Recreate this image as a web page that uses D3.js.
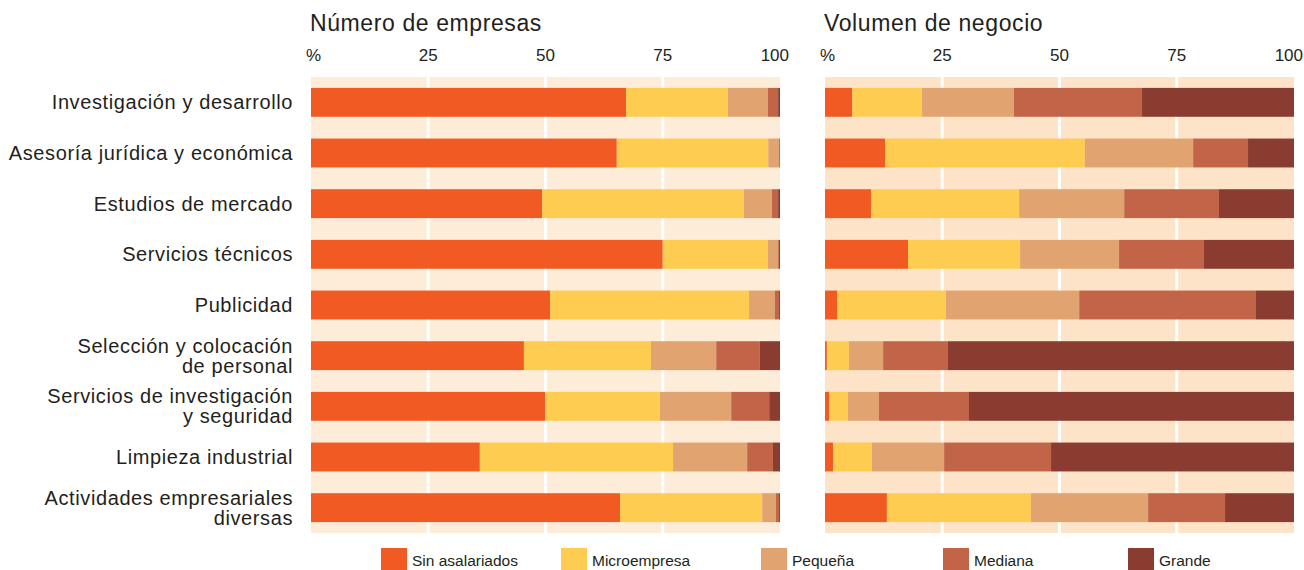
<!DOCTYPE html>
<html>
<head>
<meta charset="utf-8">
<title>Empresas por tamaño</title>
<script src="https://cdn.jsdelivr.net/npm/d3@7/dist/d3.min.js"></script>
<style>
  body { margin: 0; background: #fff; }
  svg text { font-family: 'Liberation Sans', Arial, sans-serif; fill: #231f20; }
</style>
</head>
<body>
<svg id="chart" width="1304" height="570"></svg>
<script>
// sectores (dos líneas cuando hace falta)
var sectores = [
  ["Investigación y desarrollo"],
  ["Asesoría jurídica y económica"],
  ["Estudios de mercado"],
  ["Servicios técnicos"],
  ["Publicidad"],
  ["Selección y colocación", "de personal"],
  ["Servicios de investigación", "y seguridad"],
  ["Limpieza industrial"],
  ["Actividades empresariales", "diversas"]
];
var tamanos = ["Sin asalariados", "Microempresa", "Pequeña", "Mediana", "Grande"];
var ticks = [0, 25, 50, 75, 100];
var tickLabels = ["%", "25", "50", "75", "100"];

// Número de empresas (%), una fila por sector, columnas = tamanos
var numEmpresas = [
  [67.2, 21.7, 8.5, 2.2, 0.4],
  [65.2, 32.3, 2.3, 0.1, 0.1],
  [49.3, 43.0, 6.0, 1.3, 0.4],
  [75.0, 22.4, 2.2, 0.2, 0.2],
  [51.0, 42.4, 5.5, 0.9, 0.2],
  [45.4, 27.1, 13.9, 9.3, 4.3],
  [49.9, 24.5, 15.2, 8.1, 2.3],
  [36.0, 41.2, 15.8, 5.5, 1.5],
  [65.9, 30.3, 2.9, 0.7, 0.2]
];
// Volumen de negocio (%)
var volNegocio = [
  [5.8, 14.9, 19.6, 27.3, 32.4],
  [12.8, 42.6, 23.1, 11.7, 9.8],
  [9.8, 31.6, 22.4, 20.2, 16.0],
  [17.7, 23.9, 21.1, 18.1, 19.2],
  [2.6, 23.2, 28.4, 37.7, 8.1],
  [0.4, 4.7, 7.3, 13.8, 73.8],
  [0.9, 4.0, 6.6, 19.2, 69.3],
  [1.7, 8.3, 15.4, 22.8, 51.8],
  [13.2, 30.7, 25.0, 16.4, 14.7]
];

var colores = ["#f15a22", "#fecc50", "#e1a370", "#c26447", "#8a3c30"];
var color = d3.scaleOrdinal(tamanos, colores);

var svg = d3.select("#chart");
var y = d3.scaleBand()
  .domain(d3.range(sectores.length))
  .range([77, 533])
  .paddingInner(0.43)
  .paddingOuter(0.215);

function panel(x0, x1, titulo, datos, fondo) {
  var x = d3.scaleLinear().domain([0, 100]).range([x0, x1]);
  var g = svg.append("g");

  g.append("text")
    .attr("x", x0 - 1).attr("y", 31)
    .attr("font-size", 23)
    .attr("letter-spacing", 0.6)
    .text(titulo);

  g.selectAll(".tick")
    .data(ticks)
    .enter().append("text")
    .attr("class", "tick")
    .attr("x", function(d, i) { return i == 0 ? x(d) - 5 : (i == ticks.length - 1 ? x(d) + 9 : x(d)); })
    .attr("y", 61)
    .attr("font-size", 17)
    .attr("text-anchor", function(d, i) { return i == 0 ? "start" : (i == ticks.length - 1 ? "end" : "middle"); })
    .text(function(d, i) { return tickLabels[i]; });

  g.append("rect")
    .attr("x", x0).attr("y", 77)
    .attr("width", x1 - x0).attr("height", 456)
    .attr("fill", fondo);

  g.selectAll(".grid")
    .data(ticks.slice(1, -1))
    .enter().append("line")
    .attr("x1", function(d) { return x(d); })
    .attr("x2", function(d) { return x(d); })
    .attr("y1", 77).attr("y2", 533)
    .attr("stroke", "#fff")
    .attr("stroke-width", 3);

  var stacked = d3.stack().keys(d3.range(tamanos.length))(datos);
  g.selectAll(".serie")
    .data(stacked)
    .enter().append("g")
    .attr("fill", function(s) { return colores[s.key]; })
    .selectAll("rect")
    .data(function(s) { return s; })
    .enter().append("rect")
    .attr("x", function(d) { return x(d[0]); })
    .attr("width", function(d) { return Math.max(0, x(Math.min(d[1], 100)) - x(d[0])); })
    .attr("y", function(d, i) { return y(i); })
    .attr("height", y.bandwidth());
}

panel(311, 780, "Número de empresas", numEmpresas, "#fdecd8");
panel(825, 1294, "Volumen de negocio", volNegocio, "#fde3c8");

// etiquetas de sectores
svg.selectAll(".label")
  .data(sectores)
  .enter().append("text")
  .attr("class", "label")
  .attr("text-anchor", "end")
  .attr("font-size", 20)
  .attr("letter-spacing", 0.6)
  .attr("y", function(d, i) { return y(i) + y.bandwidth() / 2 + 7 - (d.length - 1) * 10; })
  .each(function(d) {
    var t = d3.select(this);
    var yy = +t.attr("y");
    d.forEach(function(line, j) {
      t.append("tspan").attr("x", 293).attr("y", yy + j * 20).text(line);
    });
  });

// leyenda
var legX = d3.scaleOrdinal(tamanos, [381, 561, 761, 943, 1128]);
var leg = svg.selectAll(".leg")
  .data(tamanos)
  .enter().append("g")
  .attr("transform", function(d) { return "translate(" + legX(d) + ",548)"; });
leg.append("rect")
  .attr("width", 26).attr("height", 26)
  .attr("fill", function(d) { return color(d); });
leg.append("text")
  .attr("x", 31).attr("y", 18)
  .attr("font-size", 15.5)
  .text(function(d) { return d; });
</script>
</body>
</html>
